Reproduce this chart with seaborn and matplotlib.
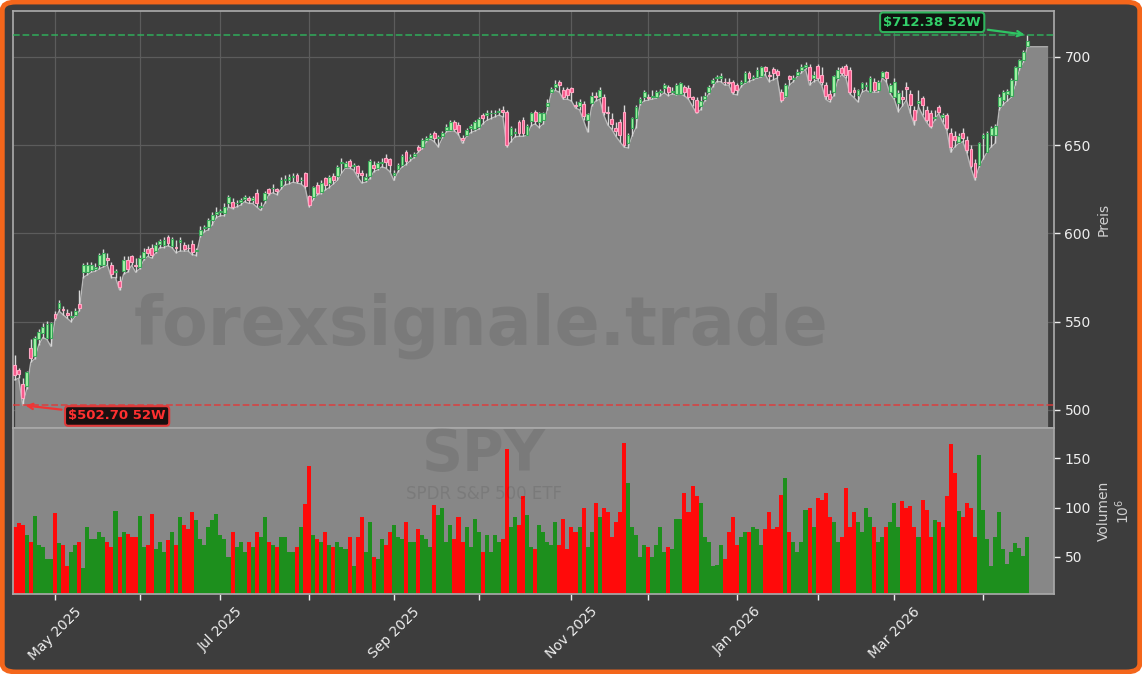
import numpy as np
import pandas as pd
import matplotlib
matplotlib.use('Agg')
import matplotlib.pyplot as plt
import seaborn as sns
from matplotlib.patches import FancyBboxPatch
from matplotlib.ticker import FixedLocator, FixedFormatter

BG = '#3d3d3d'
FILL = '#878787'

# trading days (NYSE holidays removed)
HOLIDAYS = ['2025-04-18', '2025-05-26', '2025-06-19', '2025-07-04', '2025-09-01',
            '2025-11-27', '2025-12-25', '2026-01-01', '2026-01-19', '2026-02-16',
            '2026-04-03']
dates = pd.bdate_range('2025-04-16', '2026-04-17')
dates = dates[~dates.isin(pd.to_datetime(HOLIDAYS))]

OPENS = [
    525.5, 522.5, 515, 513.5, 535, 530.5, 540, 543.5, 541, 541,
    554.5, 558, 557, 555, 552.5, 554, 560, 578, 578, 579.5,
    580, 582, 582, 586, 582, 578, 573, 579, 585, 587,
    582, 581, 586, 591, 592, 590, 594, 593.5, 598, 593,
    592.5, 595, 593.5, 592, 594, 590, 599, 603, 603.7, 607.6,
    611, 612, 611.6, 617, 618, 617, 618, 619.5, 620, 619,
    623, 615, 619, 625, 625.5, 625, 627, 630, 630.5, 632,
    633, 630, 634, 621, 620.7, 627.5, 623.5, 631.4, 628.6, 632.6,
    632.6, 640, 637.7, 641, 638, 638, 634.5, 630.5, 632.6, 639,
    637, 640, 643, 642, 633, 636.5, 639, 646, 643, 644,
    649, 649, 653, 654, 657, 654, 655, 658.6, 658.6, 663,
    661.5, 654, 655.8, 660, 659, 660.3, 667, 667, 668, 668,
    669, 670, 669, 656, 657, 663, 664, 656, 663.7, 668.8,
    663, 664, 672, 680, 683, 686, 681, 682, 682.4, 673,
    672, 673.4, 664.3, 674, 678, 677, 677, 669, 665, 660,
    663, 669, 651, 660, 665.4, 674, 677, 677, 677.5, 677.3,
    680, 682.4, 683, 680, 679, 679, 683, 682.4, 677, 675.6,
    672, 676, 680, 685, 688, 688, 686, 686, 686, 684,
    684.5, 686, 691, 688, 688.7, 689, 694.3, 690, 693, 692,
    680.3, 678, 689, 687.5, 690, 692.6, 694, 694, 688, 695,
    690, 684, 679, 680.3, 688, 693.8, 695, 692.6, 681, 678.5,
    682.4, 683.5, 680.3, 686, 681, 688.5, 691.7, 680.3, 677.5, 674,
    677, 683, 679, 670, 674, 676.8, 670, 668, 665.5, 671.7,
    666, 667, 657, 655, 652, 657, 653, 648, 640, 638.8,
    654, 646, 656, 656, 672, 675.6, 679, 678, 687, 694,
    698, 706,
]
HIGHS = [
    531, 524, 518, 522, 540, 542, 546, 549, 550.5, 550,
    556, 562.5, 559, 557, 556, 558, 568, 583, 584, 584,
    583, 589, 591, 589, 584, 580, 576, 587, 587, 588,
    586, 588, 592, 593, 594, 595, 597, 598, 599, 598,
    596, 598, 595, 594, 596, 592, 604, 605, 609, 612,
    615, 614, 617, 622, 620, 619, 620, 622, 621, 621,
    625, 618, 624, 626, 628, 626, 632, 633, 633.5, 634,
    634, 632, 635, 622, 627, 629, 630, 632, 633, 634,
    638.5, 643, 641, 642, 640, 639, 636, 634, 642, 641,
    641, 643, 645, 643, 636, 640, 645, 647, 645, 646,
    650, 654, 655, 657, 658, 656, 658, 662, 664, 664,
    663, 656, 660, 662, 664, 666, 668, 670, 670, 670,
    671, 672, 670, 661, 660, 664, 666, 662, 669, 670,
    669, 669, 676, 683, 687, 687, 683, 683, 683, 675,
    676, 675, 668, 680, 680, 683, 679, 672, 668, 663,
    665, 673, 657, 666, 673, 677, 681, 679, 681, 681,
    682, 685, 684, 683, 685, 686, 684, 684, 678, 677,
    678, 680, 684, 688, 690, 691, 688, 688, 687, 685,
    687, 692, 692, 690, 694, 695, 695, 692, 694, 693,
    682, 685, 690, 690, 693, 696, 697, 696, 692, 696,
    694, 686, 681, 690, 694, 695, 696, 694, 683, 682,
    686, 686, 689, 688, 687, 692, 692, 685, 688, 681,
    681, 686, 681, 672, 681, 678, 672, 670, 670, 673,
    668, 668, 660, 658, 657, 660, 655, 650, 642, 652,
    657, 658, 661, 662, 679, 681, 682, 688, 695, 699,
    704, 712.38,
]
LOWS = [
    517, 518, 502.7, 512, 527, 529, 537, 541, 540, 536,
    551, 556, 554, 552, 550, 553, 556, 575, 576.5, 578,
    578.5, 580, 581, 582, 575, 575, 568, 577, 578, 582,
    578, 580, 585, 587, 586, 589, 592, 592, 593, 592,
    589, 590, 590, 590, 588, 587.5, 598, 601, 602, 605,
    609, 610, 610, 615, 614, 615, 616, 618, 617, 617,
    615, 613, 617, 622, 623, 622, 625, 627.5, 628, 629,
    628.5, 628, 626, 615, 619, 622, 622.5, 624.6, 626, 628,
    630, 634, 637, 637, 636, 632, 628.6, 629, 631, 635,
    636, 637.7, 637, 635, 630, 635, 637.5, 639, 641, 643,
    646, 648, 652, 653.5, 652, 649, 654, 657.5, 658, 658,
    656, 651, 655, 657, 658, 659, 662, 664, 665, 666,
    667, 666, 649, 652, 654.7, 655, 655, 655.5, 661, 662,
    660, 662, 670, 679.6, 681, 680, 676, 676, 675, 671,
    670, 664, 657.5, 672, 675, 676, 667, 661.5, 659, 655,
    652, 649, 648.4, 655, 660, 673, 675, 675.5, 676, 676.5,
    678, 679.6, 678, 679, 678.5, 679, 678, 676, 672, 668,
    670, 675, 679, 683, 686, 686, 684, 684, 679, 678.5,
    683, 685, 686, 687, 688, 688.5, 690, 686, 687, 688,
    674.5, 677, 684, 686, 689, 691, 693, 684, 686, 687,
    684, 676, 674.5, 678, 687, 690, 688, 679, 677, 674.5,
    680, 681, 680, 680, 680, 688, 686, 679, 676, 669,
    672, 675.6, 668, 661.5, 671.7, 667, 663, 660, 664, 668,
    663, 658.6, 646, 649, 651, 652, 645.6, 637, 630.3, 637.7,
    642, 646, 649, 651, 670, 673, 675, 677, 684, 692.6,
    697, 705.7,
]
CLOSES = [
    520, 520.5, 507, 521.5, 529.5, 541, 544, 547, 548.8, 549,
    552, 560.5, 556.5, 554, 553, 556, 558, 582, 582, 582,
    581, 588, 589, 585, 577, 578, 569.5, 585, 580, 584,
    581.5, 586, 589.5, 589, 588, 593.5, 595.5, 596, 594.6, 597,
    592, 596, 591, 591.5, 589.5, 590.5, 602, 603.5, 607.6, 610.5,
    612, 612.5, 615, 620.7, 615, 617.5, 619, 620.5, 619, 620,
    617, 615.5, 623, 623, 626, 624, 630, 631, 632, 632.5,
    629.5, 630.5, 627, 616, 626.3, 623, 628.6, 627.5, 632, 630.3,
    637.7, 640.5, 640, 638, 638.5, 634, 633, 632, 641, 637,
    640, 640.5, 640.5, 639, 634, 638.5, 644, 641, 643.5, 645,
    647.3, 653, 654, 655.8, 654, 654.5, 657, 660.3, 663, 659,
    657.5, 653, 658.6, 661, 663, 665, 665.5, 668, 668.5, 668.5,
    669.5, 669, 650, 660, 657.5, 657, 657, 661, 668, 663.7,
    668, 668, 674, 682, 684.5, 684, 677, 678.5, 680, 672,
    674.5, 666.6, 667.7, 678, 677, 681, 669, 668, 662, 658,
    656, 650, 656, 665.4, 671.7, 676, 680, 676.5, 678, 680,
    680.5, 684, 680, 680.5, 684, 685, 680, 677, 676, 669,
    675, 678, 683, 687, 688.5, 689, 685.5, 685, 680, 681,
    686, 691, 688, 688.5, 692.6, 694, 692, 689, 691, 690,
    675.6, 684, 687.4, 688, 691.7, 694.5, 695.5, 687, 690, 688,
    686, 678, 676, 689, 692.6, 691, 690, 680.3, 680, 681,
    685, 684, 688, 681, 686, 691.7, 688, 684, 686, 679.6,
    676, 682, 673, 664.3, 675, 672.8, 664.3, 661, 666, 668.8,
    667, 660, 649, 653, 655, 654, 647, 638, 632, 651,
    656, 657, 660, 661, 677, 680, 680.5, 687, 694, 698,
    703, 709,
]
# volume in millions of shares
VOLUMES = [
    80, 84, 82, 72, 65, 91, 62, 60, 48, 48,
    94, 64, 62, 40, 55, 62, 65, 38, 80, 68,
    68, 75, 70, 65, 60, 97, 70, 75, 73, 70,
    70, 91, 60, 62, 93, 58, 65, 55, 67, 75,
    62, 90, 82, 78, 95, 87, 68, 62, 80, 87,
    93, 72, 68, 50, 75, 60, 65, 55, 65, 60,
    75, 70, 90, 65, 62, 60, 70, 70, 55, 55,
    60, 80, 104, 142, 72, 68, 65, 75, 62, 60,
    65, 60, 58, 70, 40, 70, 90, 55, 85, 50,
    48, 68, 62, 75, 82, 70, 68, 85, 65, 65,
    78, 72, 68, 60, 103, 92, 100, 65, 82, 68,
    90, 65, 80, 60, 88, 75, 55, 72, 55, 72,
    65, 68, 160, 80, 90, 82, 112, 92, 60, 58,
    82, 75, 65, 62, 85, 62, 88, 58, 80, 75,
    80, 100, 60, 75, 105, 90, 100, 95, 70, 85,
    95, 166, 125, 80, 72, 50, 62, 60, 50, 62,
    80, 55, 60, 58, 88, 88, 115, 95, 122, 112,
    105, 70, 65, 40, 42, 62, 48, 75, 90, 62,
    70, 75, 75, 80, 78, 62, 78, 95, 78, 80,
    113, 130, 75, 65, 55, 65, 98, 100, 80, 110,
    108, 115, 90, 85, 65, 70, 120, 80, 95, 85,
    75, 100, 90, 80, 65, 70, 80, 85, 105, 80,
    107, 100, 102, 80, 70, 108, 98, 70, 87, 85,
    80, 112, 165, 135, 97, 90, 105, 100, 70, 153,
    98, 68, 40, 70, 95, 58, 43, 55, 64, 59,
    51, 70,
]

df = pd.DataFrame({'date': dates, 'open': OPENS, 'high': HIGHS, 'low': LOWS,
                   'close': CLOSES, 'volume': VOLUMES})
df['idx'] = np.arange(len(df))
df['dir'] = np.where(df['close'] >= df['open'], 'up', 'down')

sns.set_theme(style='dark', rc={'axes.facecolor': BG, 'figure.facecolor': 'white',
                                'axes.edgecolor': '#a8a8a8', 'grid.color': '#5c5c5c'})
plt.rcParams['font.family'] = ['DejaVu Sans']

fig = plt.figure(figsize=(11.42, 6.74), dpi=100)
fig.patches.append(FancyBboxPatch((0.002, 0.003), 0.996, 0.994,
                                  boxstyle='round,pad=0,rounding_size=0.012',
                                  transform=fig.transFigure, facecolor=BG,
                                  edgecolor='#f4661b', linewidth=3.5, zorder=-10))

ax = fig.add_axes([0.0114, 0.365, 0.9116, 0.6187])
axv = fig.add_axes([0.0114, 0.1187, 0.9116, 0.2463], sharex=ax)

Y_LOW, Y_HIGH = 489.8, 726

# month ticks at first trading day of each month
firsts = df.groupby(df['date'].dt.to_period('M')).first()
firsts = firsts[firsts['date'].dt.day <= 5]
major = firsts[firsts['date'].dt.month % 2 == 1]
minor = firsts[firsts['date'].dt.month % 2 == 0]

ax.set_axisbelow(True)
for pos in list(major['idx']) + list(minor['idx']):
    ax.axvline(pos, color='#5c5c5c', lw=0.9, zorder=0)
for p in [500, 550, 600, 650, 700]:
    ax.axhline(p, color='#5c5c5c', lw=0.9, zorder=0)

# area under the lows
x_fill = list(df['idx']) + [len(df) + 4]
y_fill = list(df['low']) + [df['low'].iloc[-1]]
ax.fill_between(x_fill, y_fill, Y_LOW, color=FILL, zorder=1, lw=0)
sns.lineplot(x=x_fill, y=y_fill, ax=ax, color='#b8b8b8', lw=1.0, zorder=2)

# candles
ax.vlines(df['idx'], df['low'], df['high'], color='#d8d8d8', lw=1.0, zorder=3)
up = df[df['dir'] == 'up']
dn = df[df['dir'] == 'down']
ax.bar(up['idx'], (up['close'] - up['open']).clip(lower=0.5), bottom=up['open'], width=0.7,
       color='#a6f5a8', edgecolor='#3aa85a', lw=0.8, zorder=4)
ax.bar(dn['idx'], (dn['open'] - dn['close']).clip(lower=0.5), bottom=dn['close'], width=0.7,
       color='#f5588a', edgecolor='#ffa8c4', lw=0.8, zorder=4)

# 52 week extremes
hi = df['high'].max()
lo = df['low'].min()
hi_i = df['high'].idxmax()
lo_i = df['low'].idxmin()
ax.axhline(hi, color='#2fb35c', ls='--', lw=1.3, alpha=0.8, zorder=5)
ax.axhline(lo, color='#e03a3a', ls='--', lw=1.3, alpha=0.8, zorder=5)
ax.annotate('\\$%.2f 52W' % hi, xy=(hi_i, hi), xytext=(227.4, 719.6),
            ha='center', va='center', color='#33d16a', fontsize=9.5, fontweight='bold',
            bbox=dict(boxstyle='round,pad=0.25', fc='#101410', ec='#2fb35c', lw=1.5),
            arrowprops=dict(arrowstyle='->', color='#2fc463', lw=1.6), zorder=6)
ax.annotate('\\$%.2f 52W' % lo, xy=(lo_i, lo), xytext=(25.4, 496.6),
            ha='center', va='center', color='#ff3030', fontsize=9.5, fontweight='bold',
            bbox=dict(boxstyle='round,pad=0.25', fc='#1a1010', ec='#e03a3a', lw=1.5),
            arrowprops=dict(arrowstyle='->', color='#f03535', lw=1.6), zorder=6)

ax.text(0.45, 0.245, 'forexsignale.trade', transform=ax.transAxes, ha='center', va='center',
        fontsize=48, fontweight='bold', color='black', alpha=0.09, zorder=2.5)

ax.set_xlim(-0.4, 257.6)
ax.set_ylim(Y_LOW, Y_HIGH)
ax.yaxis.tick_right()
ax.yaxis.set_label_position('right')
ax.set_yticks([500, 550, 600, 650, 700])
ax.set_ylabel('Preis', color='#d0d0d0', fontsize=10)
ax.tick_params(axis='y', colors='#eeeeee', labelsize=10, length=4, width=1, right=True, left=False)
ax.tick_params(axis='x', labelbottom=False, bottom=False)
for s in ax.spines.values():
    s.set_color('#a8a8a8')

# volume panel
axv.set_facecolor(FILL)
sns.barplot(data=df, x='idx', y='volume', hue='dir', palette={'up': '#1d8f1d', 'down': '#ff0a0a'},
            native_scale=True, width=1.0, dodge=False, errorbar=None, legend=False,
            saturation=1, linewidth=0, ax=axv)
axv.text(0.452, 0.835, 'SPY', transform=axv.transAxes, ha='center', va='center',
         fontsize=41, fontweight='bold', color='black', alpha=0.09)
axv.text(0.452, 0.6, 'SPDR S&P 500 ETF', transform=axv.transAxes, ha='center', va='center',
         fontsize=12, color='black', alpha=0.09)
axv.set_ylim(12, 181)
axv.set_xlim(-0.4, 257.6)
axv.yaxis.tick_right()
axv.yaxis.set_label_position('right')
axv.set_yticks([50, 100, 150])
axv.set_ylabel('Volumen\n$10^6$', color='#d0d0d0', fontsize=10)
axv.set_xlabel('')
axv.tick_params(axis='y', colors='#eeeeee', labelsize=10, length=4, width=1, right=True, left=False)
axv.xaxis.set_major_locator(FixedLocator(list(major['idx'])))
axv.xaxis.set_major_formatter(FixedFormatter([d.strftime('%b %Y') for d in major['date']]))
axv.xaxis.set_minor_locator(FixedLocator(list(minor['idx'])))
axv.tick_params(axis='x', which='both', colors='#eeeeee', labelsize=10, length=4, width=1,
                bottom=True)
plt.setp(axv.get_xticklabels(), rotation=45, ha='center')
for s in axv.spines.values():
    s.set_color('#a8a8a8')

fig.savefig('out.png', dpi=100, facecolor=fig.get_facecolor())
